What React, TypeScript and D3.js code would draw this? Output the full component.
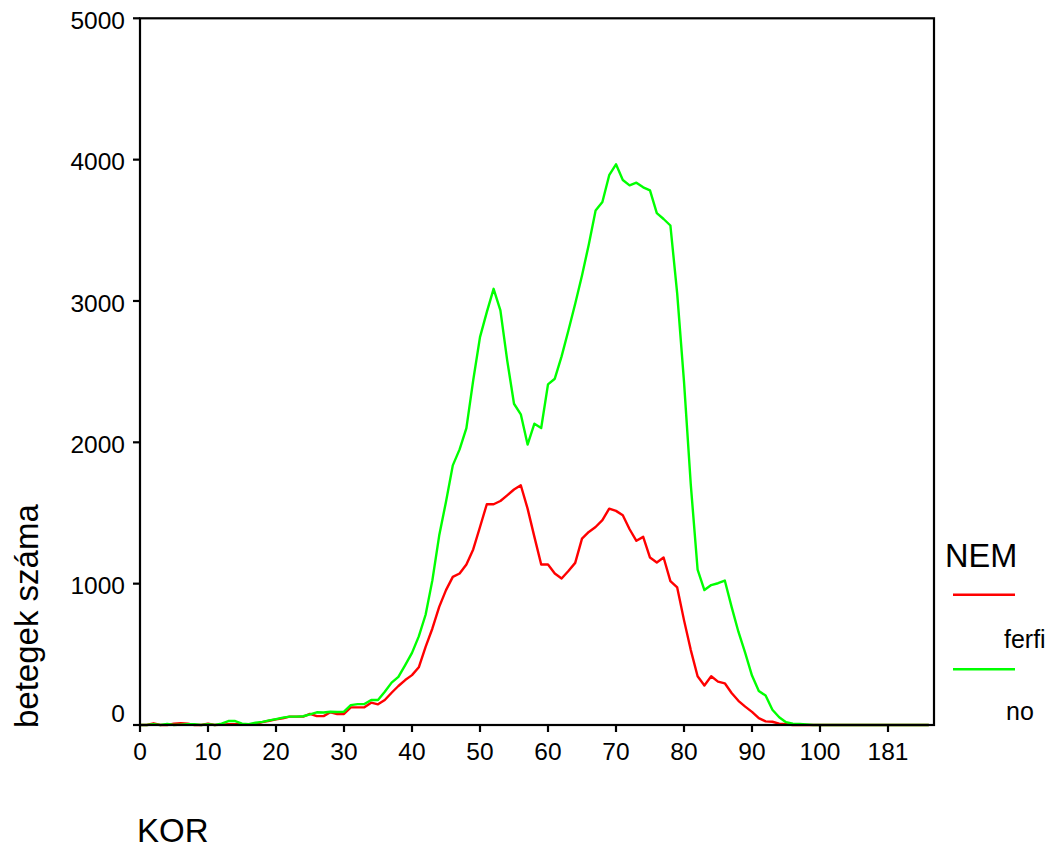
import React from "react";
import * as d3 from "d3";

// Age categories (KOR) in the order they appear on the categorical axis
const ageCategories: string[] = [
  "0","1","2","3","4","5","6","7","8","9",
  "10","11","12","13","14","15","16","17","18","19",
  "20","21","22","23","24","25","26","27","28","29",
  "30","31","32","33","34","35","36","37","38","39",
  "40","41","42","43","44","45","46","47","48","49",
  "50","51","52","53","54","55","56","57","58","59",
  "60","61","62","63","64","65","66","67","68","69",
  "70","71","72","73","74","75","76","77","78","79",
  "80","81","82","83","84","85","86","87","88","89",
  "90","91","92","93","94","95","96","97","98","99",
  "100","101","102","103","104","105","106","107","108","109",
  "181","184","190","192","200","207","640",
];

// NEM = ferfi (red)
const ferfiCounts: number[] = [
  0, 0, 12, 0, 0, 10, 12, 10, 0, 0,
  10, 0, 3, 5, 5, 5, 5, 8, 20, 30,
  40, 48, 59, 59, 59, 78, 63, 63, 90, 78,
  78, 125, 125, 125, 158, 146, 177, 228, 276, 318,
  353, 408, 553, 683, 836, 954, 1048, 1072, 1136, 1242,
  1401, 1562, 1562, 1585, 1625, 1666, 1696, 1531, 1331, 1136,
  1136, 1072, 1036, 1090, 1147, 1319, 1366, 1401, 1449, 1531,
  1515, 1484, 1385, 1303, 1331, 1185, 1150, 1185, 1018, 973,
  742, 530, 345, 280, 345, 307, 295, 226, 171, 130,
  93, 48, 26, 23, 10, 5, 0, 0, 0, 0,
  0, 0, 0, 0, 0, 0, 0, 0, 0, 0,
  0, 0, 0, 0, 0, 0, 0,
];

// NEM = no (green)
const noCounts: number[] = [
  0, 0, 5, 0, 8, 0, 3, 5, 5, 0,
  5, 0, 10, 28, 28, 10, 5, 16, 22, 33,
  42, 52, 59, 59, 62, 75, 90, 88, 94, 92,
  94, 141, 148, 148, 177, 177, 235, 300, 341, 424,
  510, 627, 780, 1025, 1340, 1580, 1837, 1950, 2100, 2438,
  2744, 2921, 3086, 2933, 2580, 2273, 2198, 1984, 2132, 2101,
  2410, 2450, 2608, 2791, 2980, 3180, 3400, 3640, 3700, 3890,
  3967, 3856, 3818, 3837, 3804, 3782, 3621, 3580, 3534, 3052,
  2430, 1700, 1100, 955, 990, 1003, 1022, 836, 660, 510,
  350, 241, 208, 108, 55, 20, 9, 7, 4, 0,
  0, 0, 0, 0, 0, 0, 0, 0, 0, 0,
  0, 0, 0, 0, 0, 0, 0,
];

const yTicks: number[] = [0, 1000, 2000, 3000, 4000, 5000];
const xTickLabels: string[] = ["0","10","20","30","40","50","60","70","80","90","100","181"];

const seriesNames: string[] = ["ferfi", "no"];
const seriesColors: string[] = ["#ff0000", "#00ff00"];

const FONT = "'Liberation Sans', Arial, Helvetica, sans-serif";

export default function App() {
  const W = 1056;
  const H = 852;
  const left = 140;
  const right = 934;
  const top = 18.3;
  const bottom = 725;
  const step = 6.8;

  const x = d3
    .scalePoint<string>()
    .domain(ageCategories)
    .range([left, left + step * (ageCategories.length - 1)]);
  const y = d3.scaleLinear().domain([0, 5000]).range([bottom, top]);

  const line = d3
    .line<number>()
    .x((_, i) => x(ageCategories[i]) as number)
    .y((d) => y(d));

  const series = [ferfiCounts, noCounts];

  return (
    <svg
      width={W}
      height={H}
      style={{ position: "absolute", left: 0, top: 0, background: "#fff" }}
      fontFamily={FONT}
    >
      <rect x={0} y={0} width={W} height={H} fill="#fff" />
      {series.map((s, i) => (
        <path
          key={seriesNames[i]}
          d={line(s) || ""}
          fill="none"
          stroke={seriesColors[i]}
          strokeWidth={2.4}
          strokeLinejoin="round"
        />
      ))}
      {/* frame */}
      <rect
        x={left}
        y={top}
        width={right - left}
        height={bottom - top}
        fill="none"
        stroke="#000"
        strokeWidth={2.2}
      />
      {/* y ticks */}
      {yTicks.map((t) => (
        <g key={"y" + t}>
          <line x1={left - 7} x2={left} y1={y(t)} y2={y(t)} stroke="#000" strokeWidth={2.2} />
          <text
            x={125}
            y={t === 0 ? y(t) - 3.3 : y(t) + 10.8}
            textAnchor="end"
            fontSize={24.5}
            fill="#000"
          >
            {t}
          </text>
        </g>
      ))}
      {/* x ticks */}
      {xTickLabels.map((lab) => {
        const xv = x(lab) as number;
        return (
          <g key={"x" + lab}>
            <line x1={xv} x2={xv} y1={bottom} y2={bottom + 7} stroke="#000" strokeWidth={2.2} />
            <text x={xv} y={760} textAnchor="middle" fontSize={24.5} fill="#000">
              {lab}
            </text>
          </g>
        );
      })}
      {/* axis titles */}
      <text x={137} y={842} fontSize={33} fill="#000">
        KOR
      </text>
      <text
        transform="translate(38,728) rotate(-90)"
        x={0}
        y={0}
        fontSize={33}
        fill="#000"
      >
        betegek száma
      </text>
      {/* legend */}
      <text x={945} y={567} fontSize={32.5} fill="#000">
        NEM
      </text>
      {seriesNames.map((n, i) => (
        <g key={"leg" + n}>
          <line
            x1={953}
            x2={1015}
            y1={594.7 + i * 74.6}
            y2={594.7 + i * 74.6}
            stroke={seriesColors[i]}
            strokeWidth={2.4}
          />
          <text x={1004 + i * 2} y={648 + i * 72} fontSize={25} fill="#000">
            {n}
          </text>
        </g>
      ))}
    </svg>
  );
}
